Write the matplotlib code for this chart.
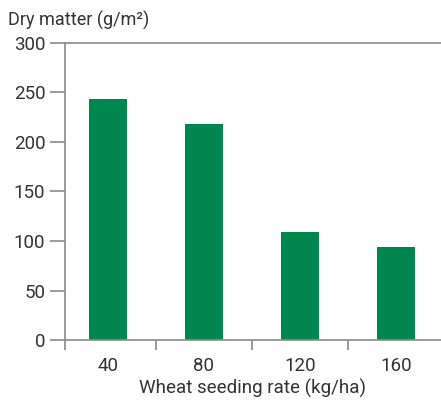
import numpy as np
import matplotlib.pyplot as plt
from matplotlib.ticker import FixedLocator

# data
rates = ["40", "80", "120", "160"]
dry_matter = [243, 218, 109, 94]

plt.rcParams['font.family'] = ['Roboto', 'DejaVu Sans']
txt = '#333333'
line = '#8a8a8a'
green = '#00874f'

fig = plt.figure(figsize=(4.41, 4.01), dpi=100)
ax = fig.add_axes([0.147, 0.152, 0.853, 0.741])

x = np.arange(len(rates))
ax.bar(x, dry_matter, width=0.4, color=green, zorder=2)

ax.set_xlim(-0.45, 3.47)
ax.set_ylim(0, 300)
ax.set_yticks([0, 50, 100, 150, 200, 250, 300])
ax.set_xticks(x)
ax.set_xticklabels(rates)
ax.xaxis.set_minor_locator(FixedLocator([-0.45, 0.5, 1.5, 2.5]))

ax.tick_params(axis='y', direction='out', length=11, width=1.2, color=line,
               labelsize=13.5, labelcolor=txt, pad=3)
ax.tick_params(axis='x', which='major', length=0, labelsize=13.5, labelcolor=txt, pad=12)
ax.tick_params(axis='x', which='minor', direction='out', length=7, width=1.2, color=line)

ax.spines['right'].set_visible(False)
for s in ['left', 'bottom', 'top']:
    ax.spines[s].set_color(line)
    ax.spines[s].set_linewidth(1.2)

ax.set_xlabel('Wheat seeding rate (kg/ha)', fontsize=13.5, color=txt, labelpad=3)
fig.text(0.018, 0.95, 'Dry matter (g/m²)', fontsize=13, color=txt, ha='left', va='center')

fig.savefig('out.png', dpi=100)
